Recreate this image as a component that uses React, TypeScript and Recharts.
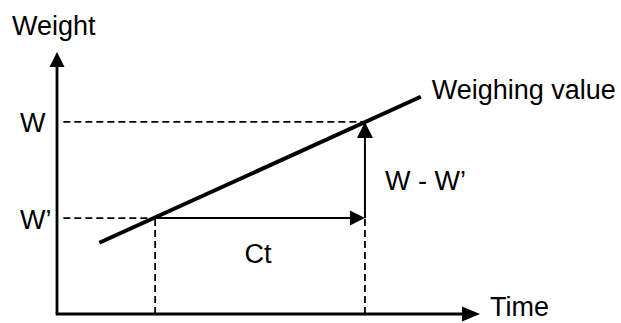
import React from "react";
import { ComposedChart, Line, XAxis, YAxis, ReferenceLine, ReferenceDot } from "recharts";

// Data (abstract units)
const timeDomain = [0, 10];
const weightDomain = [0, 10];
const timeStart = 2.32; // time at W'
const timeEnd = 7.28; // time at W
const weightPrime = 3.66; // W'
const weightValue = 7.33; // W
const weighingSeries = [
  { time: 1.0, weight: 2.72 },
  { time: 8.6, weight: 8.29 },
];
const labels = {
  yAxis: "Weight",
  xAxis: "Time",
  w: "W",
  wPrime: "W’",
  diff: "W - W’",
  ct: "Ct",
  series: "Weighing value",
};

const FONT = "'Liberation Sans', Arial, sans-serif";
const FS = 27;
const DASH = "7 4";

const arrow = (dir: "up" | "right", len = 15, half = 7.5) => (props: any) => {
  const { cx, cy } = props;
  if (cx == null || cy == null) return <g />;
  const d =
    dir === "up"
      ? `M${cx},${cy} L${cx - half},${cy + len} L${cx + half},${cy + len} Z`
      : `M${cx},${cy} L${cx - len},${cy - half} L${cx - len},${cy + half} Z`;
  return <path d={d} fill="#000" stroke="none" />;
};

const textShape = (text: string, dx: number, dy: number, anchor: string = "start") => (props: any) => {
  const { cx, cy } = props;
  if (cx == null || cy == null) return <g />;
  return (
    <text x={cx + dx} y={cy + dy} textAnchor={anchor} fontFamily={FONT} fontSize={FS} fill="#000">
      {text}
    </text>
  );
};

export default function App() {
  const last = weighingSeries[weighingSeries.length - 1];
  return (
    <div style={{ width: 621, height: 323, background: "#fff" }}>
      <style>{`body{margin:0;}`}</style>
      <ComposedChart
        width={621}
        height={323}
        data={weighingSeries}
        margin={{ top: 52, right: 141, bottom: 9, left: 57 }}
      >
        <XAxis type="number" dataKey="time" domain={timeDomain} hide />
        <YAxis type="number" dataKey="weight" domain={weightDomain} hide />

        {/* dashed guides */}
        <ReferenceLine
          ifOverflow="visible"
          segment={[{ x: 0.15, y: weightValue }, { x: timeEnd, y: weightValue }]}
          stroke="#000"
          strokeWidth={1.8}
          strokeDasharray={DASH}
        />
        <ReferenceLine
          ifOverflow="visible"
          segment={[{ x: 0.15, y: weightPrime }, { x: timeStart, y: weightPrime }]}
          stroke="#000"
          strokeWidth={1.8}
          strokeDasharray={DASH}
        />
        <ReferenceLine
          ifOverflow="visible"
          segment={[{ x: timeStart, y: 0 }, { x: timeStart, y: weightPrime }]}
          stroke="#000"
          strokeWidth={1.8}
          strokeDasharray={DASH}
        />
        <ReferenceLine
          ifOverflow="visible"
          segment={[{ x: timeEnd, y: 0 }, { x: timeEnd, y: weightPrime }]}
          stroke="#000"
          strokeWidth={1.8}
          strokeDasharray={DASH}
        />

        {/* axes */}
        <ReferenceLine
          ifOverflow="visible"
          segment={[{ x: 0, y: 0 }, { x: 0, y: weightDomain[1] - 0.4 }]}
          stroke="#000"
          strokeWidth={2.8}
        />
        <ReferenceLine
          ifOverflow="visible"
          segment={[{ x: -0.03, y: 0 }, { x: timeDomain[1] - 0.3, y: 0 }]}
          stroke="#000"
          strokeWidth={2.8}
        />
        <ReferenceDot ifOverflow="visible" x={0} y={weightDomain[1]} r={0} shape={arrow("up", 15, 7.5)} />
        <ReferenceDot ifOverflow="visible" x={timeDomain[1]} y={0} r={0} shape={arrow("right", 18, 7.5)} />

        {/* Ct and W - W' arrows */}
        <ReferenceLine
          ifOverflow="visible"
          segment={[{ x: timeStart, y: weightPrime }, { x: timeEnd - 0.25, y: weightPrime }]}
          stroke="#000"
          strokeWidth={2}
        />
        <ReferenceDot ifOverflow="visible" x={timeEnd} y={weightPrime} r={0} shape={arrow("right", 15, 7.5)} />
        <ReferenceLine
          ifOverflow="visible"
          segment={[{ x: timeEnd, y: weightPrime }, { x: timeEnd, y: weightValue - 0.4 }]}
          stroke="#000"
          strokeWidth={2}
        />
        <ReferenceDot ifOverflow="visible" x={timeEnd} y={weightValue} r={0} shape={arrow("up", 16, 8)} />

        {/* weighing value line */}
        <Line
          type="linear"
          dataKey="weight"
          stroke="#000"
          strokeWidth={4}
          dot={false}
          activeDot={false}
          isAnimationActive={false}
        />

        {/* labels */}
        <ReferenceDot ifOverflow="visible" x={0} y={weightDomain[1]} r={0} shape={textShape(labels.yAxis, -45, -17)} />
        <ReferenceDot ifOverflow="visible" x={timeDomain[1]} y={0} r={0} shape={textShape(labels.xAxis, 10, 2)} />
        <ReferenceDot ifOverflow="visible" x={0} y={weightValue} r={0} shape={textShape(labels.w, -37, 10)} />
        <ReferenceDot ifOverflow="visible" x={0} y={weightPrime} r={0} shape={textShape(labels.wPrime, -37, 11)} />
        <ReferenceDot
          ifOverflow="visible"
          x={(timeStart + timeEnd) / 2}
          y={weightPrime}
          r={0}
          shape={textShape(labels.ct, -2, 45, "middle")}
        />
        <ReferenceDot ifOverflow="visible" x={timeEnd} y={weightPrime} r={0} shape={textShape(labels.diff, 20, -28)} />
        <ReferenceDot ifOverflow="visible" x={last.time} y={last.weight} r={0} shape={textShape(labels.series, 11, 2)} />
      </ComposedChart>
    </div>
  );
}
